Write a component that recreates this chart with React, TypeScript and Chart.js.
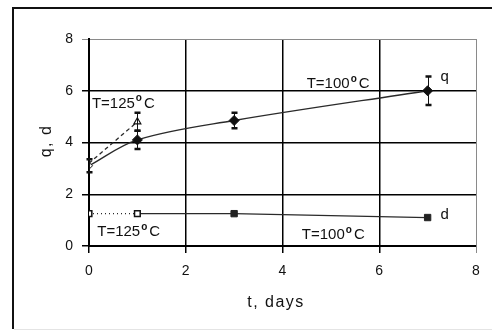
import React, { useEffect, useRef } from "react";
import { Chart, registerables } from "chart.js";
Chart.register(...registerables);

// ---- data ----
const tQ100 = [0, 1, 3, 7];
const q100 = [3.1, 4.1, 4.85, 6.0];
const q100Err = [0.25, 0.35, 0.3, 0.55];
const tQ125 = [0, 1];
const q125 = [3.2, 4.8];
const q125Err = [0, 0.35];
const tD125 = [0, 1];
const d125 = [1.25, 1.25];
const tD100 = [1, 3, 7];
const d100 = [1.25, 1.25, 1.1];
const xTickValues = [0, 2, 4, 6, 8];
const yTickValues = [0, 2, 4, 6, 8];
const xTitle = "t, days";
const yTitle = "q, d";

const LINE = "#2a2a2a";
const FONT = "'Liberation Sans', Arial, sans-serif";

function pts(xs: number[], ys: number[]) {
  return xs.map((x, i) => ({ x, y: ys[i] }));
}

const errMap: Record<number, number[]> = { 0: q100Err, 1: q125Err };

const decorPlugin = {
  id: "decor",
  afterDatasetsDraw(chart: any) {
    const ctx = chart.ctx;
    const xs = chart.scales.x;
    const ys = chart.scales.y;
    Object.keys(errMap).forEach((k) => {
      const di = Number(k);
      const ds = chart.data.datasets[di];
      const errs = errMap[di];
      ds.data.forEach((p: any, i: number) => {
        const e = errs[i];
        if (!e) return;
        const px = Math.round(xs.getPixelForValue(p.x)) + 0.5;
        const y1 = ys.getPixelForValue(p.y + e);
        const y2 = ys.getPixelForValue(p.y - e);
        ctx.save();
        ctx.strokeStyle = "#111";
        ctx.lineWidth = 1;
        ctx.beginPath();
        ctx.moveTo(px, y1);
        ctx.lineTo(px, y2);
        ctx.stroke();
        ctx.lineWidth = 2.5;
        ctx.beginPath();
        ctx.moveTo(px - 3, y1);
        ctx.lineTo(px + 3, y1);
        ctx.moveTo(px - 3, y2);
        ctx.lineTo(px + 3, y2);
        ctx.stroke();
        ctx.restore();
      });
    });

    const drawT = (num: string, vx: number, vy: number) => {
      const x0 = xs.getPixelForValue(vx);
      const y0 = ys.getPixelForValue(vy);
      ctx.save();
      ctx.fillStyle = "#111";
      ctx.textBaseline = "middle";
      ctx.textAlign = "left";
      ctx.font = `15px ${FONT}`;
      const a = "T=" + num;
      ctx.fillText(a, x0, y0);
      let w = ctx.measureText(a).width + 1;
      ctx.font = `bold 10px ${FONT}`;
      ctx.fillText("o", x0 + w, y0 - 5);
      w += ctx.measureText("o").width + 2;
      ctx.font = `15px ${FONT}`;
      ctx.fillText("C", x0 + w, y0);
      ctx.restore();
    };
    drawT("125", 0.06, 5.5);
    drawT("100", 4.5, 6.27);
    drawT("125", 0.17, 0.54);
    drawT("100", 4.4, 0.42);

    ctx.save();
    ctx.fillStyle = "#111";
    ctx.font = `15px ${FONT}`;
    ctx.textBaseline = "middle";
    ctx.textAlign = "center";
    ctx.fillText("q", xs.getPixelForValue(7.35), ys.getPixelForValue(6.55));
    ctx.fillText("d", xs.getPixelForValue(7.35), ys.getPixelForValue(1.22));
    ctx.restore();
  },
  afterDraw(chart: any) {
    const ctx = chart.ctx;
    ctx.save();
    ctx.strokeStyle = "#111";
    ctx.lineWidth = 2;
    ctx.beginPath();
    ctx.moveTo(13, 329);
    ctx.lineTo(13, 8);
    ctx.lineTo(492, 8);
    ctx.stroke();
    ctx.strokeStyle = "#e4e4e4";
    ctx.lineWidth = 1;
    ctx.beginPath();
    ctx.moveTo(14, 329.5);
    ctx.lineTo(492, 329.5);
    ctx.stroke();
    ctx.fillStyle = "#111";
    ctx.font = `16px ${FONT}`;
    (ctx as any).letterSpacing = "1.5px";
    ctx.textAlign = "center";
    ctx.textBaseline = "middle";
    ctx.fillText(xTitle, 276, 303);
    ctx.translate(47, 141);
    ctx.rotate(-Math.PI / 2);
    (ctx as any).letterSpacing = "1.5px";
    ctx.fillText(yTitle, 0, 0);
    ctx.restore();
  },
};

export default function App() {
  const ref = useRef<HTMLCanvasElement | null>(null);
  useEffect(() => {
    if (!ref.current) return;
    const gridColor = (c: any) => (c.tick && c.tick.value === 8 ? "#8a8a8a" : "#000");
    const gridWidth = (c: any) => (c.tick && c.tick.value === 8 ? 1 : 1.5);
    const chart = new Chart(ref.current, {
      type: "line",
      data: {
        datasets: [
          {
            data: pts(tQ100, q100),
            borderColor: LINE,
            borderWidth: 1.3,
            tension: 0.35,
            pointStyle: "rectRot",
            pointRadius: [3.5, 5, 5, 5],
            pointBackgroundColor: ["#fff", "#111", "#111", "#111"],
            pointBorderColor: "#111",
            pointBorderWidth: 1,
          },
          {
            data: pts(tQ125, q125),
            borderColor: LINE,
            borderWidth: 1.3,
            borderDash: [4, 3],
            tension: 0.3,
            pointStyle: "triangle",
            pointRadius: [0, 4],
            pointBackgroundColor: "#fff",
            pointBorderColor: "#111",
            pointBorderWidth: 1.2,
          },
          {
            data: pts(tD125, d125),
            borderColor: LINE,
            borderWidth: 1.3,
            borderDash: [1, 3],
            pointStyle: "rect",
            pointRadius: 4,
            pointBackgroundColor: "#fff",
            pointBorderColor: "#111",
            pointBorderWidth: 1.5,
          },
          {
            data: pts(tD100, d100),
            borderColor: LINE,
            borderWidth: 1.3,
            pointStyle: "rect",
            pointRadius: [0, 4.5, 4.5],
            pointBackgroundColor: "#222",
            pointBorderColor: "#222",
            pointBorderWidth: 1,
          },
        ],
      },
      options: {
        responsive: false,
        animation: false,
        events: [],
        layout: { padding: { left: 0, top: 39, right: 16, bottom: 0 } },
        plugins: { legend: { display: false }, tooltip: { enabled: false } },
        scales: {
          x: {
            type: "linear",
            min: 0,
            max: 8,
            afterFit: (s: any) => {
              s.height = 88;
            },
            afterBuildTicks: (s: any) => {
              s.ticks = xTickValues.map((v) => ({ value: v }));
            },
            ticks: { color: "#111", font: { size: 14, family: FONT }, padding: 10, maxRotation: 0 },
            grid: { color: gridColor, lineWidth: gridWidth, tickLength: 7, drawTicks: true },
            border: { color: "#000", width: 2 },
          },
          y: {
            type: "linear",
            min: 0,
            max: 8,
            afterFit: (s: any) => {
              s.width = 89;
            },
            afterBuildTicks: (s: any) => {
              s.ticks = yTickValues.map((v) => ({ value: v }));
            },
            ticks: { color: "#111", font: { size: 14, family: FONT }, padding: 9 },
            grid: { color: gridColor, lineWidth: gridWidth, tickLength: 7, drawTicks: true },
            border: { color: "#000", width: 2 },
          },
        },
      },
      plugins: [decorPlugin],
    } as any);
    return () => chart.destroy();
  }, []);
  return (
    <div style={{ position: "fixed", left: 0, top: 0, width: 492, height: 334, background: "#fff" }}>
      <canvas ref={ref} width={492} height={334} />
    </div>
  );
}
